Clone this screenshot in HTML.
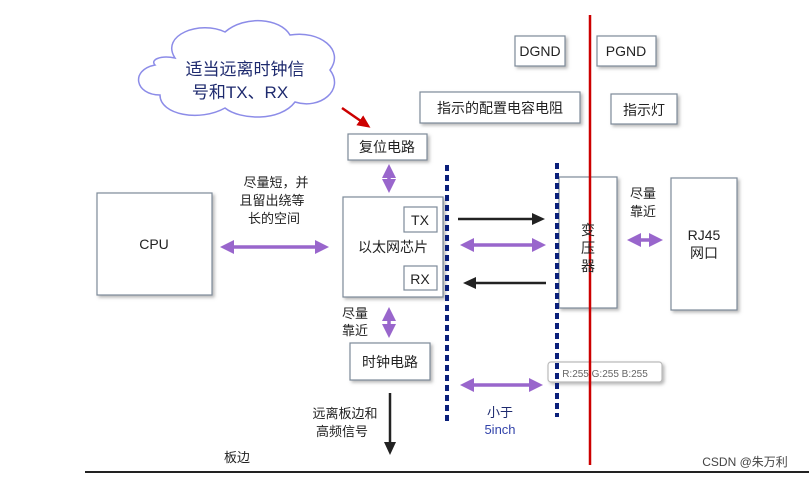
<!DOCTYPE html>
<html><head><meta charset="utf-8"><style>
body{margin:0;background:#fff}
svg text{font-family:"Liberation Sans","Noto Sans CJK SC",sans-serif;fill:#222}
</style></head><body>
<svg width="809" height="478" viewBox="0 0 809 478" xmlns="http://www.w3.org/2000/svg">
<defs>
<marker id="pa" markerWidth="16" markerHeight="16" refX="8" refY="8" orient="auto-start-reverse" markerUnits="userSpaceOnUse"><path d="M0,1 L14,8 L0,15z" fill="#9966cc"/></marker>
<marker id="ka" markerWidth="14" markerHeight="14" refX="10" refY="7" orient="auto" markerUnits="userSpaceOnUse"><path d="M0,1 L13,7 L0,13z" fill="#222"/></marker>
<marker id="ra" markerWidth="14" markerHeight="14" refX="10" refY="7" orient="auto" markerUnits="userSpaceOnUse"><path d="M0,1 L13,7 L0,13z" fill="#c00"/></marker>
<filter id="sh"><feDropShadow dx="2" dy="2" stdDeviation="1.5" flood-color="#888" flood-opacity="0.6"/></filter>
</defs>
<g fill="#fff" stroke="#7d8a99" stroke-width="1.2" filter="url(#sh)">
<rect x="97" y="193" width="115" height="102"/>
<rect x="343" y="197" width="100" height="100"/>
<rect x="348" y="134" width="79" height="26"/>
<rect x="350" y="343" width="80" height="37"/>
<rect x="559" y="177" width="58" height="131"/>
<rect x="671" y="178" width="66" height="132"/>
<rect x="515" y="36" width="50" height="30"/>
<rect x="597" y="36" width="59" height="30"/>
<rect x="420" y="92" width="160" height="31"/>
<rect x="611" y="94" width="66" height="30"/>
<rect x="548" y="362" width="114" height="20" rx="3" stroke="#bbb"/>
</g>
<g fill="#fff" stroke="#7d8a99" stroke-width="1.2">
<rect x="404" y="207" width="33" height="25"/>
<rect x="404" y="266" width="33" height="24"/>
</g>
<path d="M175,58 C160,35 200,20 225,32 C245,15 280,18 290,35 C320,30 345,50 330,70 C345,90 320,110 295,102 C280,122 240,120 225,108 C200,122 160,115 160,95 C135,95 130,70 155,65 C150,60 160,55 175,58z" fill="#fff" stroke="#8c8ce8" stroke-width="1.5"/>
<text x="245" y="75" font-size="17" text-anchor="middle" style="fill:#1e2a6e">适当远离时钟信</text>
<text x="240" y="98" font-size="17" text-anchor="middle" style="fill:#1e2a6e">号和TX、RX</text>
<line x1="342" y1="108" x2="368" y2="126" stroke="#c00" stroke-width="2.5" marker-end="url(#ra)"/>
<line x1="590" y1="15" x2="590" y2="465" stroke="#c00" stroke-width="2.5"/>
<line x1="447" y1="165" x2="447" y2="422" stroke="#0a1f7a" stroke-width="4" stroke-dasharray="6,4"/>
<line x1="557" y1="163" x2="557" y2="417" stroke="#0a1f7a" stroke-width="4" stroke-dasharray="6,4"/>
<g stroke="#9966cc" stroke-width="3.5" marker-start="url(#pa)" marker-end="url(#pa)">
<line x1="226" y1="247" x2="323" y2="247"/>
<line x1="389" y1="170" x2="389" y2="187"/>
<line x1="389" y1="313" x2="389" y2="332"/>
<line x1="466" y1="245" x2="540" y2="245"/>
<line x1="466" y1="385" x2="537" y2="385"/>
<line x1="633" y1="240" x2="657" y2="240"/>
</g>
<g stroke="#222" stroke-width="2.5">
<line x1="458" y1="219" x2="542" y2="219" marker-end="url(#ka)"/>
<line x1="546" y1="283" x2="466" y2="283" marker-end="url(#ka)"/>
<line x1="390" y1="393" x2="390" y2="452" marker-end="url(#ka)"/>
</g>
<line x1="85" y1="472" x2="809" y2="472" stroke="#222" stroke-width="2"/>
<g font-size="14">
<text x="154" y="249" text-anchor="middle">CPU</text>
<text x="387" y="152" text-anchor="middle">复位电路</text>
<text x="393" y="252" text-anchor="middle">以太网芯片</text>
<text x="420" y="225" text-anchor="middle">TX</text>
<text x="420" y="284" text-anchor="middle">RX</text>
<text x="390" y="367" text-anchor="middle">时钟电路</text>
<text x="540" y="56" text-anchor="middle">DGND</text>
<text x="626" y="56" text-anchor="middle">PGND</text>
<text x="500" y="113" text-anchor="middle">指示的配置电容电阻</text>
<text x="644" y="115" text-anchor="middle">指示灯</text>
<text x="704" y="240" text-anchor="middle">RJ45</text>
<text x="704" y="258" text-anchor="middle">网口</text>
<text x="588" y="235" text-anchor="middle">变</text>
<text x="588" y="253" text-anchor="middle">压</text>
<text x="588" y="271" text-anchor="middle">器</text>
<text x="276" y="187" text-anchor="middle" font-size="13">尽量短，并</text>
<text x="272" y="205" text-anchor="middle" font-size="13">且留出绕等</text>
<text x="274" y="223" text-anchor="middle" font-size="13">长的空间</text>
<text x="355" y="318" text-anchor="middle" font-size="13">尽量</text>
<text x="355" y="335" text-anchor="middle" font-size="13">靠近</text>
<text x="643" y="198" text-anchor="middle" font-size="13">尽量</text>
<text x="643" y="216" text-anchor="middle" font-size="13">靠近</text>
<text x="345" y="418" text-anchor="middle" font-size="13">远离板边和</text>
<text x="342" y="436" text-anchor="middle" font-size="13">高频信号</text>
<text x="500" y="417" text-anchor="middle" font-size="13" style="fill:#1e2a6e">小于</text>
<text x="500" y="434" text-anchor="middle" font-size="13" style="fill:#3344aa">5inch</text>
<text x="237" y="462" text-anchor="middle" font-size="13">板边</text>
<text x="605" y="377" text-anchor="middle" font-size="10" style="fill:#666">R:255 G:255 B:255</text>
<text x="745" y="466" text-anchor="middle" font-size="12" style="fill:#444">CSDN @朱万利</text>
</g>
</svg>
</body></html>
